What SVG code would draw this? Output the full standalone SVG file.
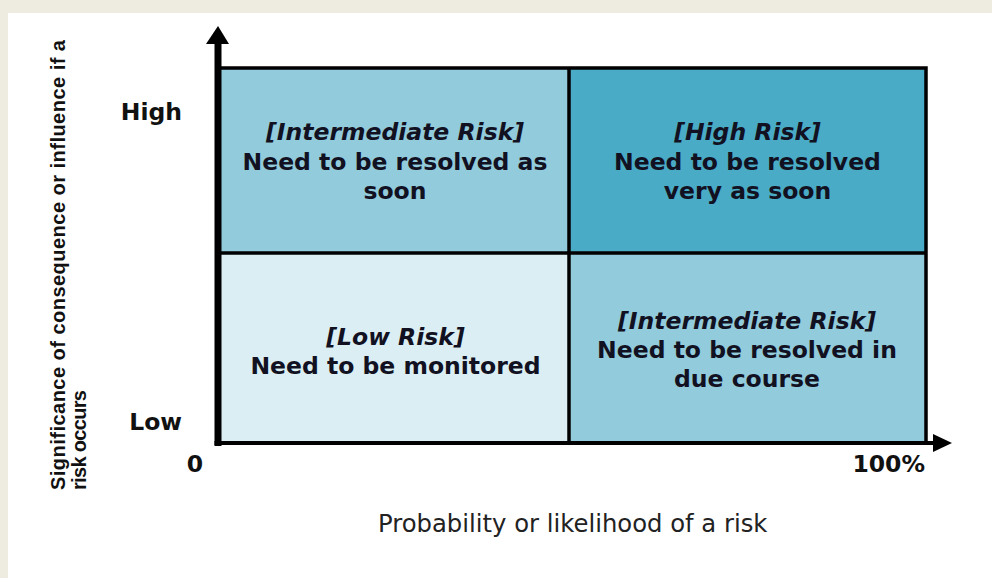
<svg xmlns="http://www.w3.org/2000/svg" width="992" height="578" viewBox="0 0 992 578">
  <defs>
    <style>
      .cell-text { font-family: "DejaVu Sans", Verdana, sans-serif; font-size: 23.5px; font-weight: bold; fill: #111122; text-anchor: middle; }
      .cell-title { font-style: italic; }
      .tick { font-family: "DejaVu Sans", Verdana, sans-serif; font-size: 23.5px; font-weight: bold; fill: #111; }
      .ylab { font-family: "Liberation Sans", Arial, sans-serif; font-size: 20px; font-weight: bold; fill: #111; }
      .xlab { font-family: "DejaVu Sans", Verdana, sans-serif; font-size: 24.3px; fill: #222; }
      .border { stroke: #000; stroke-width: 3.5; fill: none; }
    </style>
  </defs>
  <rect x="0" y="0" width="992" height="578" fill="#eeece1"/>
  <rect x="8" y="13" width="984" height="565" fill="#ffffff"/>

  <g id="cell-intermediate-top">
    <rect x="218" y="68" width="351" height="185" fill="#92cbdc"/>
    <text class="cell-text cell-title" x="395" y="140">[Intermediate Risk]</text>
    <text class="cell-text" x="395" y="169.5">Need to be resolved as</text>
    <text class="cell-text" x="395" y="199">soon</text>
  </g>
  <g id="cell-high">
    <rect x="569" y="68" width="357" height="185" fill="#4aabc6"/>
    <text class="cell-text cell-title" x="747.5" y="140">[High Risk]</text>
    <text class="cell-text" x="747.5" y="169.5">Need to be resolved</text>
    <text class="cell-text" x="747.5" y="199">very as soon</text>
  </g>
  <g id="cell-low">
    <rect x="218" y="253" width="351" height="190" fill="#daeef3"/>
    <text class="cell-text cell-title" x="395.5" y="345">[Low Risk]</text>
    <text class="cell-text" x="395.5" y="373.5">Need to be monitored</text>
  </g>
  <g id="cell-intermediate-bottom">
    <rect x="569" y="253" width="357" height="190" fill="#92cbdc"/>
    <text class="cell-text cell-title" x="747" y="328.5">[Intermediate Risk]</text>
    <text class="cell-text" x="747" y="357.5">Need to be resolved in</text>
    <text class="cell-text" x="747" y="387">due course</text>
  </g>

  <g id="grid-lines">
    <rect class="border" x="218" y="68" width="708" height="375"/>
    <line class="border" x1="569" y1="68" x2="569" y2="443"/>
    <line class="border" x1="218" y1="253" x2="926" y2="253"/>
  </g>

  <g id="connectors">
    <line x1="218" y1="446" x2="218" y2="42" stroke="#000" stroke-width="7"/>
    <polygon points="206,44 218,26 229,44" fill="#000"/>
    <line x1="214.5" y1="443" x2="935" y2="443" stroke="#000" stroke-width="4"/>
    <polygon points="933,434 952,443 933,452" fill="#000"/>
  </g>

  <g id="axis-labels">
    <text class="tick" x="182" y="120" text-anchor="end">High</text>
    <text class="tick" x="182" y="430" text-anchor="end">Low</text>
    <text class="tick" x="195" y="472" text-anchor="middle">0</text>
    <text class="tick" x="925" y="472" text-anchor="end">100%</text>
    <text class="xlab" x="378" y="532">Probability or likelihood of a risk</text>
    <text class="ylab" transform="translate(65,490) rotate(-90)" textLength="450" lengthAdjust="spacing">Significance of consequence or influence if a</text>
    <text class="ylab" transform="translate(86,490) rotate(-90)" textLength="100" lengthAdjust="spacing">risk occurs</text>
  </g>
</svg>
